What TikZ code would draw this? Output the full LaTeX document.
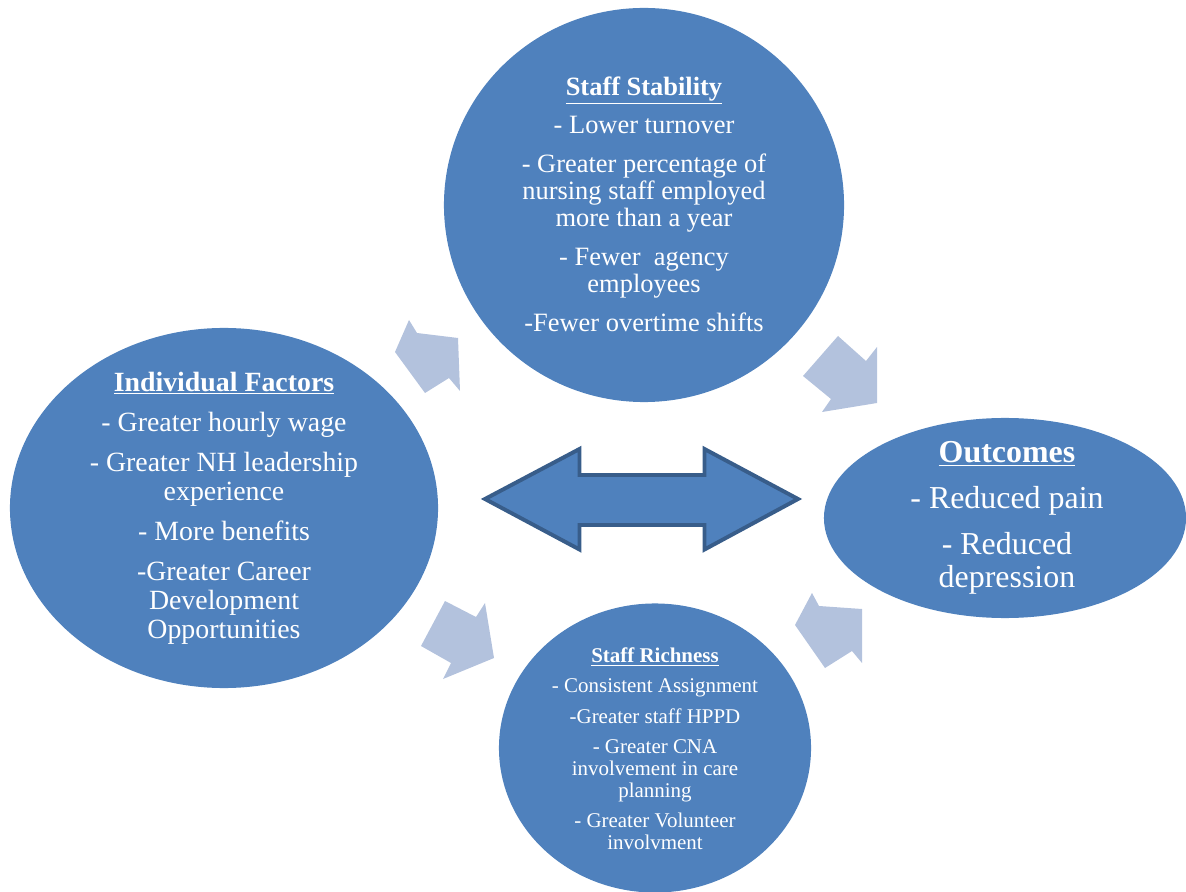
\documentclass[tikz,border=0pt]{standalone}
\usepackage{fontspec}
\setmainfont{Liberation Serif}
\usepackage{tikz}
\definecolor{kreisblau}{RGB}{79,129,189}
\definecolor{randblau}{RGB}{56,93,138}
\definecolor{pfeilgrau}{RGB}{179,194,221}
\usetikzlibrary{shapes.geometric}

\begin{document}
\begin{tikzpicture}[x=0.025cm, y=-0.025cm,
		blase/.style={ellipse, fill=kreisblau, inner sep=0pt, outer sep=0pt},
		schrift/.style={text=white, align=center, inner sep=0pt},
		pfeil/.style={fill=pfeilgrau},
		doppelpfeil/.style={fill=kreisblau, draw=randblau, line width=2.8pt, line join=miter}]
	%Bildbereich
	\useasboundingbox (0,0) rectangle (1186,892);
	% Kreise zeichnen
	\node[blase, minimum width=10cm, minimum height=9.85cm] (stab) at (644,205) {};
	\node[blase, minimum width=10.7cm, minimum height=9cm] (indiv) at (224,508) {};
	\node[blase, minimum width=9.05cm, minimum height=5cm] (outc) at (1005,518) {};
	\node[blase, minimum width=7.8cm, minimum height=7.225cm] (rich) at (655,748) {};
	% kleine Pfeile
	\fill[pfeil] (409,320) -- (417,333) -- (458,338) -- (460,391) -- (449,378) -- (425,393) -- (395,352) -- cycle;
	\fill[pfeil] (838,336) -- (866,361) -- (877,347) -- (877,403) -- (822,412) -- (831,399) -- (803,376) -- cycle;
	\fill[pfeil] (445,601) -- (476,617) -- (485,603) -- (494,658) -- (443,679) -- (451,663) -- (421,646) -- cycle;
	\fill[pfeil] (812,593) -- (819,606) -- (862,609) -- (862,663) -- (852,651) -- (825,668) -- (795,625) -- cycle;
	% Doppelpfeil
	\draw[doppelpfeil] (485,499) -- (579.5,449) -- (579.5,475) -- (704.5,475) -- (704.5,449)
		-- (798,499) -- (704.5,549.5) -- (704.5,525) -- (579.5,525) -- (579.5,549.5) -- cycle;
	%Beschriftung
	\node[schrift, font=\fontsize{18.8}{19.5}\selectfont] (stabtext) at (644,204)
		{\underline{\textbf{Staff Stability}}\\[7.8pt] - Lower turnover\\[7.8pt]
		 - Greater percentage of\\ nursing staff employed\\ more than a year\\[7.8pt]
		 - Fewer~ agency\\ employees\\[7.8pt] -Fewer overtime shifts};
	\node[schrift, font=\fontsize{19.8}{20.5}\selectfont] (indivtext) at (224,508)
		{\underline{\textbf{Individual Factors}}\\[8pt] - Greater hourly wage\\[8pt]
		 - Greater NH leadership\\ experience\\[8pt] - More benefits\\[8pt]
		 -Greater Career\\ Development\\ Opportunities};
	\node[schrift, font=\fontsize{22.7}{23.4}\selectfont] (outctext) at (1007,518)
		{\underline{\textbf{Outcomes}}\\[9.2pt] - Reduced pain\\[9.2pt] - Reduced\\ depression};
	\node[schrift, font=\fontsize{14.9}{15.6}\selectfont] (richtext) at (655,749)
		{\underline{\textbf{Staff Richness}}\\[6pt] - Consistent Assignment\\[6pt]
		 -Greater staff HPPD\\[6pt] - Greater CNA\\ involvement in care\\ planning\\[6pt]
		 - Greater Volunteer\\ involvment};
\end{tikzpicture}
\end{document}
